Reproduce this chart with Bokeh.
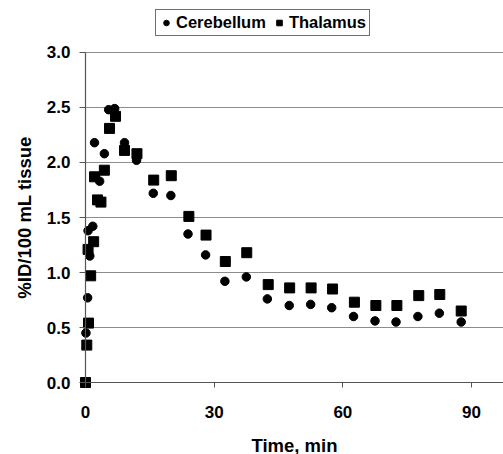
from bokeh.plotting import figure
from bokeh.models import Range1d, FixedTicker, Legend, LegendItem, CustomJSTickFormatter
from bokeh.embed import file_html
from bokeh.resources import INLINE

# Data (time in min, %ID/100 mL tissue)
cereb_t = [0.1, 0.5, 0.6, 1.0, 1.7, 2.1, 3.3, 4.4, 5.4, 6.8, 9.1, 11.9, 15.8,
           19.9, 23.9, 28.0, 32.5, 37.5, 42.4, 47.5, 52.5, 57.4, 62.5, 67.5,
           72.4, 77.5, 82.5, 87.6]
cereb_v = [0.45, 0.77, 1.38, 1.15, 1.42, 2.18, 1.83, 2.08, 2.48, 2.49, 2.18, 2.02, 1.72,
           1.70, 1.35, 1.16, 0.92, 0.96, 0.76, 0.70, 0.71, 0.68, 0.60, 0.56,
           0.55, 0.60, 0.63, 0.55]
thal_t = [0.0, 0.3, 0.7, 1.2, 0.6, 1.9, 2.1, 2.8, 3.6, 4.4, 5.6, 7.0, 9.1, 12.0, 15.9,
          20.0, 24.1, 28.1, 32.6, 37.6, 42.6, 47.6, 52.6, 57.6, 62.7, 67.7,
          72.6, 77.7, 82.6, 87.6]
thal_v = [0.0, 0.34, 0.54, 0.97, 1.21, 1.28, 1.87, 1.66, 1.64, 1.93, 2.31, 2.42, 2.11, 2.08, 1.84,
          1.88, 1.51, 1.34, 1.10, 1.18, 0.89, 0.86, 0.86, 0.85, 0.73, 0.70,
          0.70, 0.79, 0.80, 0.65]
x_ticks = [0, 30, 60, 90]
y_ticks = [0.0, 0.5, 1.0, 1.5, 2.0, 2.5, 3.0]

FONT = "Liberation Sans"
X_START, X_END = -19.818, 97.46
Y_START, Y_END = -0.6545, 3.4727

p = figure(width=503, height=454, output_backend="svg", toolbar_location=None,
           x_range=Range1d(X_START, X_END), y_range=Range1d(Y_START, Y_END),
           min_border_left=0, min_border_right=0, min_border_top=0, min_border_bottom=0)
p.outline_line_color = None
p.background_fill_color = "white"
p.border_fill_color = "white"
p.xgrid.grid_line_color = None
p.ygrid.grid_line_color = None

# horizontal gridlines starting at the y axis
p.segment(x0=[0] * len(y_ticks), y0=y_ticks, x1=[X_END] * len(y_ticks), y1=y_ticks,
          line_color="#8c8c8c", line_width=1)

for ax in (p.xaxis[0], p.yaxis[0]):
    ax.fixed_location = 0
    ax.axis_line_color = "#555555"
    ax.axis_line_width = 1.2
    ax.major_tick_line_color = "#555555"
    ax.minor_tick_line_color = None
    ax.major_tick_in = 0
    ax.major_label_text_font = FONT
    ax.major_label_text_font_style = "bold"
    ax.major_label_text_font_size = "17px"
    ax.major_label_text_color = "black"
    ax.axis_label_text_font = FONT
    ax.axis_label_text_font_style = "bold"
    ax.axis_label_text_font_size = "18.5px"
    ax.axis_label_text_color = "black"

p.xaxis.bounds = (0, X_END)
p.yaxis.bounds = (0, y_ticks[-1])
p.xaxis.ticker = FixedTicker(ticks=x_ticks)
p.yaxis.ticker = FixedTicker(ticks=y_ticks)
p.yaxis.formatter = CustomJSTickFormatter(code="return tick.toFixed(1);")
p.xaxis.axis_label = "Time, min"
p.yaxis.axis_label = "%ID/100 mL tissue"
p.xaxis.major_tick_out = 5
p.yaxis.major_tick_out = 6
p.xaxis.major_label_standoff = 18
p.xaxis.axis_label_standoff = 14
p.yaxis.major_label_standoff = 9
p.yaxis.axis_label_standoff = 9

r1 = p.scatter(cereb_t, cereb_v, marker="circle", size=8.5, fill_color="black", line_color="black")
r2 = p.scatter(thal_t, thal_v, marker="square", size=10, fill_color="black", line_color="black")

legend = Legend(items=[LegendItem(label="Cerebellum", renderers=[r1]),
                       LegendItem(label="Thalamus", renderers=[r2])],
                orientation="horizontal", location=(155, 418),
                label_text_font=FONT, label_text_font_style="bold",
                label_text_font_size="16.5px", label_text_color="black",
                glyph_width=14, glyph_height=17, label_standoff=3, spacing=6,
                padding=3, margin=0, border_line_color="#707070", border_line_alpha=1,
                border_line_width=1, background_fill_alpha=1)
p.add_layout(legend, "center")

open("out.html", "w").write(file_html(p, INLINE))
